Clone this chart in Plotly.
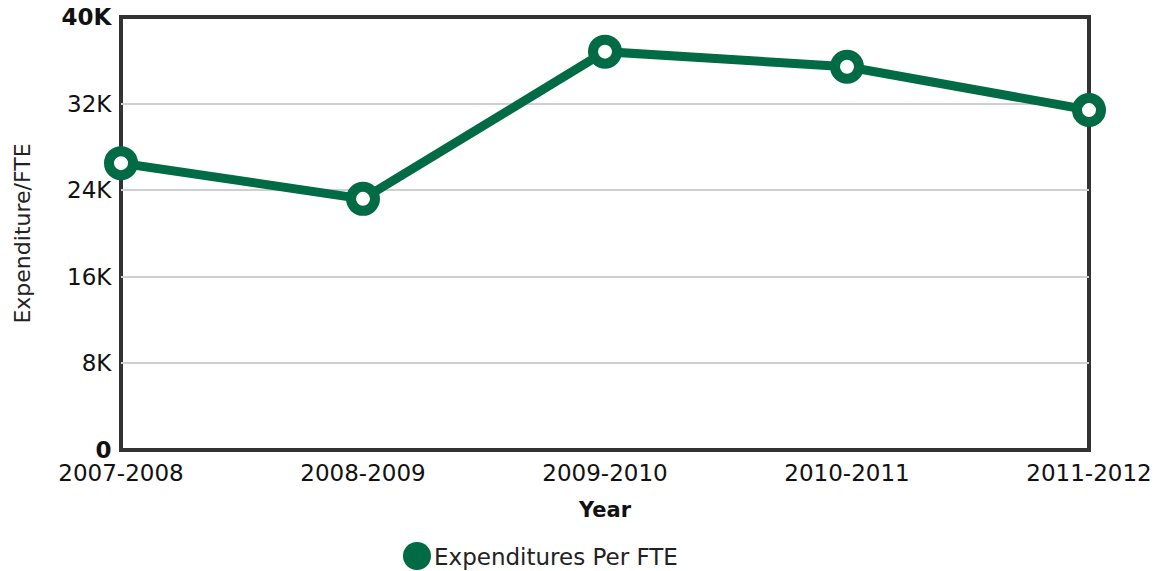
import plotly.graph_objects as go

# data
years = ["2007-2008", "2008-2009", "2009-2010", "2010-2011", "2011-2012"]
expenditure_per_fte = [26500, 23200, 36800, 35400, 31400]

y_ticks = [0, 8000, 16000, 24000, 32000, 40000]
y_tick_labels = ["<b>0</b>", "8K", "16K", "24K", "32K", "<b>40K</b>"]

GREEN = "#006b45"
FONT = "DejaVu Sans"

fig = go.Figure()
fig.add_trace(
    go.Scatter(
        x=list(range(len(years))),
        y=expenditure_per_fte,
        mode="lines+markers",
        line=dict(color=GREEN, width=9),
        marker=dict(size=24, color="white", line=dict(color=GREEN, width=10)),
        cliponaxis=False,
        showlegend=False,
        name="Expenditures Per FTE",
    )
)

fig.update_layout(
    width=1166,
    height=571,
    margin=dict(l=121, r=77, t=17, b=121),
    plot_bgcolor="white",
    paper_bgcolor="white",
    font=dict(family=FONT, size=16, color="#222"),
    xaxis=dict(
        range=[0, len(years) - 1],
        tickvals=list(range(len(years))),
        ticktext=years,
        showgrid=False,
        zeroline=False,
        ticks="outside",
        ticklen=2,
        tickcolor="rgba(0,0,0,0)",
        automargin=False,
        tickfont=dict(size=23, color="#111"),
        title=dict(text="<b>Year</b>", font=dict(size=21, color="#111"), standoff=17),
    ),
    yaxis=dict(
        range=[0, 40000],
        tickvals=y_ticks,
        ticktext=y_tick_labels,
        showgrid=True,
        gridcolor="#d0d0d0",
        gridwidth=1.5,
        zeroline=False,
        ticks="outside",
        ticklen=4,
        tickcolor="rgba(0,0,0,0)",
        automargin=False,
        tickfont=dict(size=23, color="#111"),
        title=dict(text="Expenditure/FTE", font=dict(size=22, color="#222"), standoff=24),
    ),
    shapes=[
        # plot frame
        dict(type="rect", xref="paper", yref="paper", x0=0, x1=1, y0=0, y1=1,
             line=dict(color="#333333", width=4), layer="below"),
        # legend swatch
        dict(type="circle", xref="paper", yref="paper",
             x0=(403 - 121) / 968, x1=(431 - 121) / 968,
             y0=(450 - 570) / 433, y1=(450 - 542) / 433,
             fillcolor=GREEN, line=dict(color=GREEN, width=0)),
    ],
    annotations=[
        dict(text="Expenditures Per FTE", xref="paper", yref="paper",
             x=(432 - 121) / 968, y=(450 - 557) / 433, xanchor="left", yanchor="middle",
             showarrow=False, font=dict(size=23, color="#222")),
    ],
)

fig.write_html("out.html", config={"displayModeBar": False},
               post_script="document.body.style.margin='0';")
